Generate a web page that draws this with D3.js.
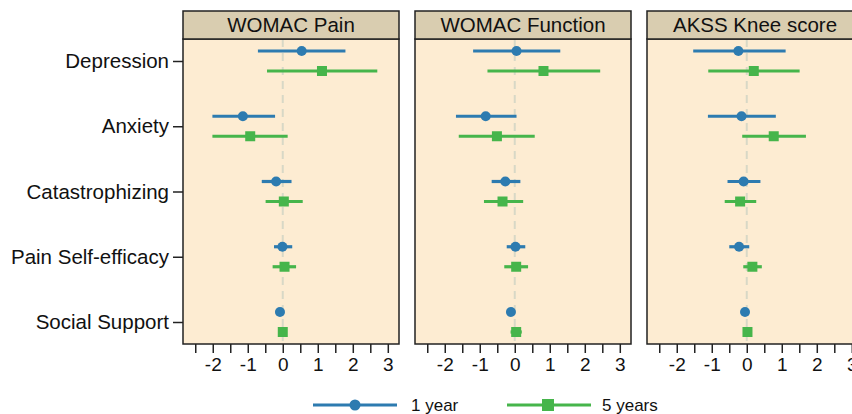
<!DOCTYPE html>
<html>
<head>
<meta charset="utf-8">
<script src="https://cdn.jsdelivr.net/npm/d3@7"></script>
<style>
  body { margin: 0; background: #fff; }
  svg text { font-family: "Liberation Sans", Helvetica, Arial, sans-serif; fill: #111; }
</style>
</head>
<body>
<div id="chart"></div>
<script>
// predictors (rows) and outcomes (panels)
const predictors = ["Depression", "Anxiety", "Catastrophizing", "Pain Self-efficacy", "Social Support"];
const outcomes = ["WOMAC Pain", "WOMAC Function", "AKSS Knee score"];
const seriesNames = ["1 year", "5 years"];
const xTicks = [-2.5, -2, -1.5, -1, -0.5, 0, 0.5, 1, 1.5, 2, 2.5, 3];

// 1 year estimates, one array per outcome
const est1 = [
    [0.54, -1.14, -0.19, -0.01, -0.08],
    [0.05, -0.83, -0.27, 0.02, -0.11],
    [-0.24, -0.15, -0.09, -0.22, -0.05]
];
const lo1 = [
    [-0.71, -2.01, -0.60, -0.25, -0.12],
    [-1.19, -1.68, -0.66, -0.23, -0.15],
    [-1.53, -1.11, -0.55, -0.50, -0.08]
];
const hi1 = [
    [1.79, -0.22, 0.25, 0.27, -0.04],
    [1.30, 0.05, 0.16, 0.30, -0.07],
    [1.11, 0.83, 0.39, 0.07, -0.02]
];

// 5 year estimates
const est5 = [
    [1.12, -0.93, 0.03, 0.05, 0.00],
    [0.82, -0.51, -0.35, 0.04, 0.04],
    [0.20, 0.77, -0.19, 0.16, 0.02]
];
const lo5 = [
    [-0.45, -2.01, -0.49, -0.29, -0.05],
    [-0.78, -1.60, -0.88, -0.30, -0.12],
    [-1.10, -0.13, -0.63, -0.10, -0.02]
];
const hi5 = [
    [2.70, 0.14, 0.57, 0.38, 0.05],
    [2.44, 0.57, 0.24, 0.38, 0.20],
    [1.51, 1.69, 0.27, 0.43, 0.06]
];

const width = 852, height = 414;
const colors = ["#2d7bb0", "#46b54b"];

const panelW = 216, panelGap = 16, firstLeft = 183;
const stripTop = 11, stripH = 28, plotTop = stripTop + stripH, plotBottom = 344;

let svg = d3.select("#chart").append("svg")
    .attr("width", width)
    .attr("height", height);

let x = d3.scaleLinear().domain([-2.85, 3.32]).range([0, panelW]);
let y = d3.scalePoint().domain(predictors).range([61, 322]);
let offset = d3.scaleOrdinal().domain(seriesNames).range([-10, 10]);

// y axis labels on the left of the first panel
let yAxis = svg.append("g")
    .attr("transform", "translate(" + firstLeft + ",0)")
    .call(d3.axisLeft(y).tickSize(10).tickPadding(4));
yAxis.select(".domain").remove();
yAxis.selectAll("line").attr("stroke", "#222").attr("stroke-width", 1.5);
yAxis.selectAll("text").style("font-size", "20.5px").attr("fill", "#111");

outcomes.forEach((outcome, p) => {
    let left = firstLeft + p * (panelW + panelGap);
    let g = svg.append("g").attr("transform", "translate(" + left + ",0)");

    // panel background
    g.append("rect")
        .attr("x", 0).attr("y", plotTop)
        .attr("width", panelW).attr("height", plotBottom - plotTop)
        .attr("fill", "#fdecd2");

    // zero reference
    g.append("line")
        .attr("x1", x(0)).attr("x2", x(0))
        .attr("y1", plotTop).attr("y2", plotBottom)
        .attr("stroke", "#d8d8c6")
        .attr("stroke-width", 2)
        .attr("stroke-dasharray", "8,6");

    // rows of estimates
    let series = [
        {name: seriesNames[0], est: est1[p], lo: lo1[p], hi: hi1[p]},
        {name: seriesNames[1], est: est5[p], lo: lo5[p], hi: hi5[p]}
    ];

    series.forEach((s, si) => {
        let rows = predictors.map((d, i) => ({pred: d, est: s.est[i], lo: s.lo[i], hi: s.hi[i]}));
        let cy = d => y(d.pred) + offset(s.name);

        g.selectAll(".ci" + si)
            .data(rows)
            .enter()
            .append("line")
            .attr("class", "ci" + si)
            .attr("x1", d => x(d.lo))
            .attr("x2", d => x(d.hi))
            .attr("y1", cy)
            .attr("y2", cy)
            .attr("stroke", colors[si])
            .attr("stroke-width", 3.2);

        if (si === 0) {
            g.selectAll(".pt0")
                .data(rows)
                .enter()
                .append("circle")
                .attr("class", "pt0")
                .attr("cx", d => x(d.est))
                .attr("cy", cy)
                .attr("r", 5)
                .attr("fill", colors[0]);
        } else {
            g.selectAll(".pt1")
                .data(rows)
                .enter()
                .append("rect")
                .attr("class", "pt1")
                .attr("x", d => x(d.est) - 5)
                .attr("y", d => cy(d) - 5)
                .attr("width", 10)
                .attr("height", 10)
                .attr("fill", colors[1]);
        }
    });

    // panel border
    g.append("rect")
        .attr("x", 0).attr("y", plotTop)
        .attr("width", panelW).attr("height", plotBottom - plotTop)
        .attr("fill", "none")
        .attr("stroke", "#222")
        .attr("stroke-width", 1.5);

    // strip
    g.append("rect")
        .attr("x", 0).attr("y", stripTop)
        .attr("width", panelW).attr("height", stripH)
        .attr("fill", "#d9cdb0")
        .attr("stroke", "#222")
        .attr("stroke-width", 1.5);
    g.append("text")
        .attr("x", panelW / 2)
        .attr("y", stripTop + stripH / 2)
        .attr("dy", "0.36em")
        .attr("text-anchor", "middle")
        .style("font-size", "20.5px")
        .text(outcome);

    // x axis
    let xAxis = g.append("g")
        .attr("transform", "translate(0," + plotBottom + ")")
        .call(d3.axisBottom(x)
            .tickValues(xTicks)
            .tickSize(9)
            .tickPadding(5)
            .tickFormat(d => Number.isInteger(d) ? String(d) : ""));
    xAxis.select(".domain").remove();
    xAxis.selectAll("line").attr("stroke", "#222").attr("stroke-width", 1.5);
    xAxis.selectAll("text").style("font-size", "19px").attr("fill", "#111");
});

// legend
let legendX = [313, 507];
let legend = svg.selectAll(".legend")
    .data(seriesNames)
    .enter()
    .append("g")
    .attr("class", "legend")
    .attr("transform", (d, i) => "translate(" + legendX[i] + ",405)");

legend.append("line")
    .attr("x1", 0).attr("x2", 84)
    .attr("stroke", (d, i) => colors[i])
    .attr("stroke-width", 3.2);

legend.each(function (d, i) {
    let lg = d3.select(this);
    if (i === 0) {
        lg.append("circle").attr("cx", 42).attr("r", 5.5).attr("fill", colors[0]);
    } else {
        lg.append("rect").attr("x", 35).attr("y", -6).attr("width", 12).attr("height", 12).attr("fill", colors[1]);
    }
});

legend.append("text")
    .attr("x", (d, i) => i === 0 ? 98 : 95)
    .attr("dy", "0.36em")
    .style("font-size", "17px")
    .text(d => d);
</script>
</body>
</html>
